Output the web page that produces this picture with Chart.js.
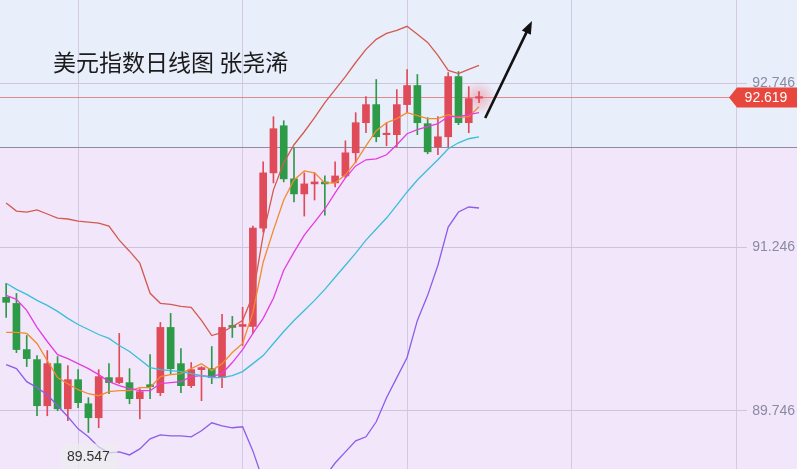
<!DOCTYPE html>
<html>
<head>
<meta charset="utf-8">
<script src="https://cdn.jsdelivr.net/npm/chart.js@4.4.1/dist/chart.umd.min.js"></script>
<style>
  html, body { margin: 0; padding: 0; background: #f2e6fb; }
  #wrap { width: 797px; height: 469px; position: relative; }
</style>
</head>
<body>
<div id="wrap"><canvas id="chart"></canvas></div>
<script>
  // 标题与刻度
  const chartTitle = '美元指数日线图 张尧浠';
  const yTicks = [89.746, 91.246, 92.746];
  const vGridAt = [7, 23, 39, 55, 71];
  const lastPrice = 92.619;
  const dividerLevel = 92.166;

  // K线数据 (开 高 低 收)
  const opens = [90.786, 90.730, 90.307, 90.215, 89.792, 90.178, 89.764, 90.031, 89.810, 89.682,
    90.050, 90.004, 90.004, 89.857, 89.985, 89.912, 90.510, 90.178, 89.976, 90.123,
    90.132, 90.050, 90.528, 90.519, 90.519, 91.421, 91.927, 92.359, 91.872, 91.734,
    91.826, 91.844, 91.835, 91.899, 92.111, 92.387, 92.553, 92.277, 92.277, 92.553,
    92.728, 92.378, 92.166, 92.258, 92.810, 92.387, 92.612];
  const highs = [90.914, 90.822, 90.436, 90.252, 90.298, 90.243, 90.160, 90.123, 89.866, 90.123,
    90.178, 90.455, 90.132, 89.948, 90.261, 90.556, 90.639, 90.317, 90.188, 90.151,
    90.335, 90.629, 90.611, 90.694, 91.439, 92.028, 92.442, 92.405, 92.157, 91.927,
    91.927, 91.899, 92.028, 92.221, 92.479, 92.626, 92.783, 92.387, 92.691, 92.875,
    92.829, 92.433, 92.442, 92.847, 92.856, 92.718, 92.672];
  const lows = [90.602, 90.279, 90.151, 89.700, 89.700, 89.746, 89.654, 89.774, 89.547, 89.590,
    89.902, 89.994, 89.810, 89.672, 89.857, 89.884, 90.087, 89.912, 89.958, 89.838,
    89.994, 89.958, 90.418, 90.344, 90.455, 91.384, 91.835, 91.844, 91.660, 91.531,
    91.678, 91.540, 91.798, 91.881, 92.019, 92.295, 92.212, 92.175, 92.166, 92.479,
    92.277, 92.102, 92.093, 92.166, 92.369, 92.295, 92.571];
  const closes = [90.740, 90.307, 90.224, 89.792, 90.178, 89.764, 90.031, 89.820, 89.682, 90.059,
    90.004, 90.050, 89.857, 89.921, 89.967, 90.510, 90.132, 89.976, 90.123, 90.142,
    90.050, 90.510, 90.510, 90.537, 91.421, 91.927, 92.332, 91.872, 91.734, 91.826,
    91.844, 91.826, 91.899, 92.111, 92.387, 92.553, 92.258, 92.286, 92.553, 92.728,
    92.387, 92.120, 92.258, 92.810, 92.387, 92.608, 92.619];

  // 布林带与均线
  const bollUpper = [91.651, 91.577, 91.568, 91.587, 91.550, 91.513, 91.504, 91.485, 91.476, 91.467,
    91.439, 91.310, 91.209, 91.099, 90.823, 90.731, 90.721, 90.703, 90.694, 90.574,
    90.436, 90.464, 90.519, 90.574, 90.804, 91.356, 91.771, 92.019, 92.185, 92.304,
    92.433, 92.571, 92.691, 92.810, 92.939, 93.059, 93.151, 93.206, 93.234, 93.271,
    93.197, 93.123, 93.004, 92.866, 92.838, 92.875, 92.912];
  const bollMid = [90.915, 90.859, 90.813, 90.758, 90.712, 90.657, 90.593, 90.537, 90.491, 90.445,
    90.409, 90.344, 90.289, 90.215, 90.142, 90.123, 90.114, 90.105, 90.087, 90.068,
    90.050, 90.050, 90.068, 90.105, 90.178, 90.252, 90.363, 90.473, 90.574, 90.666,
    90.758, 90.859, 90.970, 91.080, 91.191, 91.310, 91.412, 91.513, 91.632, 91.752,
    91.862, 91.955, 92.047, 92.148, 92.203, 92.240, 92.258];
  const bollLower = [90.169, 90.132, 90.013, 89.958, 89.893, 89.792, 89.691, 89.580, 89.507, 89.415,
    89.360, 89.369, 89.341, 89.396, 89.488, 89.525, 89.516, 89.516, 89.507, 89.562,
    89.636, 89.608, 89.590, 89.599, 89.378, 89.102, 88.964, 88.872, 88.872, 88.918,
    89.010, 89.139, 89.267, 89.369, 89.470, 89.507, 89.645, 89.866, 90.050, 90.234,
    90.574, 90.804, 91.080, 91.430, 91.568, 91.614, 91.605];
  const ma10 = [90.804, 90.767, 90.666, 90.510, 90.381, 90.261, 90.224, 90.178, 90.132, 90.077,
    90.013, 89.976, 89.948, 89.930, 89.930, 89.994, 90.004, 90.013, 90.059, 90.068,
    90.059, 90.087, 90.188, 90.307, 90.455, 90.593, 90.777, 91.034, 91.200, 91.356,
    91.476, 91.596, 91.743, 91.881, 91.991, 92.047, 92.056, 92.093, 92.185, 92.286,
    92.323, 92.350, 92.378, 92.442, 92.442, 92.461, 92.479];
  const ma5 = [90.464, 90.464, 90.455, 90.363, 90.206, 90.050, 89.994, 89.939, 89.902, 89.884,
    89.921, 89.930, 89.930, 89.958, 89.958, 90.059, 90.077, 90.087, 90.132, 90.178,
    90.114, 90.178, 90.280, 90.363, 90.648, 91.108, 91.402, 91.678, 91.862, 91.945,
    91.927, 91.835, 91.835, 91.909, 92.028, 92.175, 92.314, 92.387, 92.424, 92.479,
    92.451, 92.424, 92.424, 92.461, 92.433, 92.442, 92.534];

  // 趋势箭头 (K线序号, 价格)
  const arrowFrom = { x: 46.6, y: 92.43 };
  const arrowTo = { x: 51.15, y: 93.32 };

  const upColor = '#e04b5a';
  const downColor = '#2d9a48';
  const bgTop = '#e9eefb';
  const bgBottom = '#f2e6fb';

  const idx = closes.map((_, i) => i);
  const candleColor = ctx => closes[ctx.dataIndex] >= opens[ctx.dataIndex] ? upColor : downColor;

  function lineSet(values, color) {
    return {
      type: 'line',
      data: idx.map(i => ({ x: i, y: values[i] })),
      borderColor: color,
      borderWidth: 1.3,
      pointRadius: 0,
      fill: false,
      tension: 0,
      order: 0
    };
  }

  const decorPlugin = {
    id: 'decor',
    beforeDraw(chart) {
      const { ctx, scales: { y } } = chart;
      const yDiv = y.getPixelForValue(dividerLevel);
      ctx.save();
      ctx.fillStyle = bgTop;
      ctx.fillRect(0, 0, chart.width, yDiv);
      ctx.fillStyle = bgBottom;
      ctx.fillRect(0, yDiv, chart.width, chart.height - yDiv);
      ctx.restore();
    },
    beforeDatasetsDraw(chart) {
      const { ctx, scales: { x, y } } = chart;
      ctx.save();
      // 分隔线
      const yDiv = Math.round(y.getPixelForValue(dividerLevel)) + 0.5;
      ctx.strokeStyle = '#8f8e9c';
      ctx.lineWidth = 1;
      ctx.beginPath();
      ctx.moveTo(0, yDiv);
      ctx.lineTo(chart.width, yDiv);
      ctx.stroke();
      // 现价线
      const py = Math.round(y.getPixelForValue(lastPrice)) + 0.5;
      ctx.strokeStyle = 'rgba(228, 100, 105, 0.75)';
      ctx.beginPath();
      ctx.moveTo(0, py);
      ctx.lineTo(chart.width - 66, py);
      ctx.stroke();
      // 现价光晕
      const px = x.getPixelForValue(closes.length - 1);
      const g = ctx.createRadialGradient(px, py, 0, px, py, 17);
      g.addColorStop(0, 'rgba(240, 110, 120, 0.45)');
      g.addColorStop(1, 'rgba(240, 110, 120, 0)');
      ctx.fillStyle = g;
      ctx.beginPath();
      ctx.arc(px, py, 17, 0, Math.PI * 2);
      ctx.fill();
      ctx.restore();
    },
    afterDraw(chart) {
      const { ctx, scales: { x, y } } = chart;
      const yDiv = y.getPixelForValue(dividerLevel);
      ctx.save();

      // 右侧刻度
      ctx.font = '14px "Liberation Sans", Arial, sans-serif';
      ctx.textAlign = 'right';
      ctx.textBaseline = 'middle';
      yTicks.forEach(v => {
        const ty = y.getPixelForValue(v);
        ctx.fillStyle = ty < yDiv ? bgTop : bgBottom;
        ctx.fillRect(747, ty - 8, 50, 16);
        ctx.fillStyle = '#8a8aa2';
        ctx.fillText(v.toFixed(3), 795, ty);
      });

      // 现价标签
      const py = y.getPixelForValue(lastPrice);
      ctx.fillStyle = '#e8473d';
      ctx.beginPath();
      ctx.moveTo(729, py);
      ctx.lineTo(737, py - 10);
      ctx.lineTo(797, py - 10);
      ctx.lineTo(797, py + 10);
      ctx.lineTo(737, py + 10);
      ctx.closePath();
      ctx.fill();
      ctx.fillStyle = '#ffffff';
      ctx.textAlign = 'center';
      ctx.fillText(lastPrice.toFixed(3), 766, py + 1);

      // 最低点标签
      const minLow = Math.min(...lows);
      const li = lows.indexOf(minLow);
      const lx = x.getPixelForValue(li);
      const ly = y.getPixelForValue(minLow) + 25;
      ctx.fillStyle = 'rgba(238, 236, 240, 0.7)';
      ctx.fillRect(lx - 27, ly - 14, 56, 40);
      ctx.fillStyle = '#333333';
      ctx.fillText(minLow.toFixed(3), lx, ly);

      // 标题
      ctx.font = '23px "Noto Sans CJK SC", sans-serif';
      ctx.textAlign = 'left';
      ctx.fillStyle = '#1b1b1b';
      ctx.fillText(chartTitle, 53, 62);

      // 箭头
      const ax = x.getPixelForValue(arrowFrom.x), ay = y.getPixelForValue(arrowFrom.y);
      const bx = x.getPixelForValue(arrowTo.x), by = y.getPixelForValue(arrowTo.y);
      const ang = Math.atan2(by - ay, bx - ax);
      ctx.strokeStyle = '#111111';
      ctx.lineWidth = 2.6;
      ctx.beginPath();
      ctx.moveTo(ax, ay);
      ctx.lineTo(bx - 8 * Math.cos(ang), by - 8 * Math.sin(ang));
      ctx.stroke();
      ctx.fillStyle = '#111111';
      ctx.beginPath();
      ctx.moveTo(bx, by);
      ctx.lineTo(bx - 13 * Math.cos(ang) + 5 * Math.sin(ang), by - 13 * Math.sin(ang) - 5 * Math.cos(ang));
      ctx.lineTo(bx - 13 * Math.cos(ang) - 5 * Math.sin(ang), by - 13 * Math.sin(ang) + 5 * Math.cos(ang));
      ctx.closePath();
      ctx.fill();

      ctx.restore();
    }
  };

  const chart = new Chart(document.getElementById('chart'), {
    type: 'bar',
    data: {
      datasets: [
        lineSet(bollUpper, '#d45a4f'),
        lineSet(bollLower, '#8d5ce8'),
        lineSet(bollMid, '#3bbfd6'),
        lineSet(ma10, '#e63be0'),
        lineSet(ma5, '#f28a2e'),
        {
          type: 'bar',
          data: idx.map(i => ({ x: i, y: [lows[i], highs[i]] })),
          backgroundColor: candleColor,
          barThickness: 1,
          grouped: false,
          order: 2
        },
        {
          type: 'bar',
          data: idx.map(i => ({ x: i, y: [opens[i], closes[i]] })),
          backgroundColor: candleColor,
          barThickness: 7,
          minBarLength: 1.5,
          grouped: false,
          order: 1
        }
      ]
    },
    options: {
      responsive: true,
      maintainAspectRatio: false,
      animation: false,
      layout: { padding: 0 },
      plugins: { legend: { display: false }, tooltip: { enabled: false } },
      scales: {
        x: {
          type: 'linear',
          offset: false,
          min: -0.6,
          max: 76.93,
          afterBuildTicks: scale => { scale.ticks = vGridAt.map(v => ({ value: v })); },
          ticks: { display: false },
          grid: { color: '#d2cae2', drawTicks: false, offset: false },
          border: { display: false }
        },
        y: {
          type: 'linear',
          position: 'right',
          min: 89.212,
          max: 93.512,
          afterBuildTicks: scale => { scale.ticks = yTicks.map(v => ({ value: v })); },
          ticks: { display: false },
          grid: { color: '#cdc5dd', drawTicks: false },
          border: { display: false }
        }
      }
    },
    plugins: [decorPlugin]
  });
</script>
</body>
</html>
